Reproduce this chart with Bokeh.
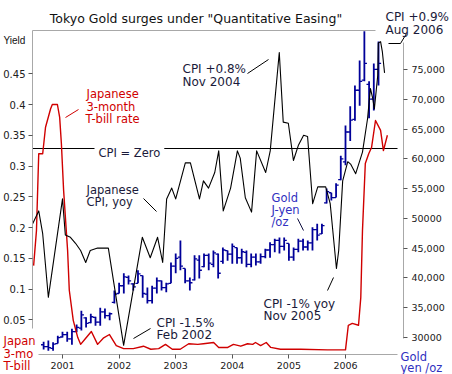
import pandas as pd
from bokeh.plotting import figure
from bokeh.models import Range1d, LinearAxis, FixedTicker, Label
from bokeh.embed import file_html
from bokeh.resources import INLINE

# ---------------- data ----------------
gold_months = pd.date_range("2000-09-01", periods=72, freq="MS")
gold_open = [28800, 28500, 28200, 29000, 30100, 30500, 29800, 31000, 31600, 33300,
             32500, 33400, 32600, 34300, 33700, 35900, 37400, 38700, 40100, 39000,
             39100, 40400, 37300, 36200, 38300, 39500, 38400, 39100, 42000, 43500,
             41600, 39500, 39700, 43000, 41900, 43800, 42300, 44000, 42800, 44600,
             44000, 45100, 43400, 44300, 42300, 43500, 42700, 43600, 44700, 45600,
             46300, 45300, 45800, 43500, 44800, 46200, 45200, 45900, 48100, 47400,
             52600, 54300, 53500, 56500, 59500, 64500, 66600, 71500, 73200, 72500,
             70000, 75000]
gold_high = [29300, 29500, 29200, 30300, 31000, 31000, 31500, 32200, 34500, 33400,
             34000, 33500, 35000, 34900, 34200, 37900, 39200, 40800, 40400, 39100,
             41300, 40400, 38400, 38700, 40100, 39600, 39200, 42600, 44100, 46300,
             41600, 40100, 43800, 43800, 44100, 44100, 44600, 44100, 45100, 44600,
             45800, 45100, 44900, 44600, 44100, 44100, 44100, 44900, 46000, 46600,
             46800, 46800, 45800, 45100, 46600, 46600, 46300, 48500, 49100, 49100,
             55000, 54300, 55900, 60500, 65600, 68800, 72300, 76500, 81400, 73000,
             76000, 79700]
gold_low = [28000, 27800, 27800, 29000, 30000, 29300, 28800, 30900, 31200, 31700,
            32400, 32000, 32000, 33200, 32900, 35700, 37400, 37400, 38900, 37900,
            39100, 36700, 35700, 35700, 37400, 37900, 37600, 39100, 40800, 41300,
            39100, 37900, 39600, 39900, 41800, 41300, 41800, 39900, 42400, 42900,
            42400, 42400, 42400, 41800, 41800, 42100, 42400, 43300, 43400, 44300,
            44100, 44600, 42900, 42900, 44300, 44600, 44600, 44600, 46300, 47400,
            52500, 53000, 53500, 56400, 58900, 63000, 66400, 68900, 73000, 66800,
            68100, 72300]
gold_close = [28500, 28300, 28900, 30000, 30500, 29800, 31000, 31700, 33800, 32400,
              33500, 32600, 34300, 33700, 34000, 37300, 38700, 40200, 39500, 38500,
              40700, 37400, 36200, 38300, 39500, 38400, 39000, 42000, 43300, 42000,
              39500, 39200, 43200, 41300, 43800, 42500, 44200, 40800, 44700, 44000,
              45300, 43400, 44400, 42300, 43500, 42700, 43600, 44700, 45600, 46300,
              45300, 46300, 43500, 44800, 46200, 45200, 45900, 48100, 47200, 48800,
              54500, 53500, 55600, 60000, 64500, 66500, 71500, 73000, 76000, 70000,
              75000, 76000]

tbill_t = [2000.49, 2000.54, 2000.58, 2000.65, 2000.70, 2000.79, 2000.82, 2000.91,
           2000.95, 2000.98, 2001.02, 2001.09, 2001.12, 2001.19, 2001.27, 2001.32,
           2001.41, 2001.51, 2001.62, 2001.72, 2001.83, 2001.95, 2002.08, 2002.25,
           2002.43, 2002.56, 2002.70, 2002.82, 2002.94, 2003.08, 2003.23, 2003.39,
           2003.49, 2003.67, 2003.76, 2003.92, 2004.02, 2004.15, 2004.27, 2004.36,
           2004.41, 2004.50, 2004.60, 2004.68, 2004.85, 2005.21, 2005.68, 2006.00,
           2006.05, 2006.12, 2006.23, 2006.27, 2006.30, 2006.35, 2006.41, 2006.46,
           2006.53, 2006.62, 2006.67, 2006.74]
tbill_yield = [0.138, 0.195, 0.320, 0.320, 0.363, 0.393, 0.400, 0.400,
               0.379, 0.337, 0.260, 0.163, 0.098, 0.049, 0.021, 0.010,
               0.020, 0.031, 0.010, 0.020, 0.026, 0.008, 0.003, 0.003,
               0.007, 0.002, 0.003, 0.010, 0.002, 0.002, 0.011, 0.010,
               0.011, 0.013, 0.005, 0.005, 0.010, 0.007, 0.011, 0.010,
               0.013, 0.008, 0.013, 0.005, 0.002, 0.002, 0.001, 0.001,
               0.041, 0.044, 0.041, 0.086, 0.195, 0.304, 0.320, 0.330,
               0.374, 0.358, 0.325, 0.350]

cpi_t = [2000.47, 2000.58, 2000.65, 2000.75, 2001.00, 2001.05, 2001.14, 2001.23,
         2001.32, 2001.41, 2001.49, 2001.62, 2001.81, 2002.08, 2002.41, 2002.55,
         2002.68, 2002.77, 2002.84, 2002.93, 2003.00, 2003.17, 2003.26, 2003.42,
         2003.49, 2003.58, 2003.69, 2003.76, 2003.84, 2003.97, 2004.09, 2004.14,
         2004.23, 2004.34, 2004.43, 2004.59, 2004.67, 2004.83, 2004.90, 2004.99,
         2005.08, 2005.17, 2005.26, 2005.33, 2005.42, 2005.51, 2005.65, 2005.73,
         2005.84, 2005.88, 2005.95, 2006.04, 2006.09, 2006.18, 2006.30, 2006.39,
         2006.44, 2006.48, 2006.51, 2006.57, 2006.58, 2006.62, 2006.65, 2006.69]
cpi_yoy = [-0.63, -0.52, -0.71, -1.24, -0.42, -0.72, -0.74, -0.79,
           -0.85, -0.95, -0.85, -0.83, -0.83, -1.64, -0.74, -0.91,
           -0.74, -0.95, -0.42, -0.33, -0.42, -0.12, -0.12, -0.42,
           -0.27, -0.33, -0.20, -0.02, -0.52, -0.33, -0.02, -0.08,
           -0.41, -0.53, -0.02, -0.20, -0.02, 0.80, 0.22, 0.21,
           -0.10, 0.03, 0.11, 0.10, -0.46, -0.32, -0.32, -0.46,
           -1.00, -0.85, -0.27, -0.11, -0.13, -0.21, -0.03, 0.25,
           0.50, 0.42, 0.33, 0.61, 0.88, 0.89, 0.81, 0.63]

year_ticks = [2001, 2002, 2003, 2004, 2005, 2006]
year_labels = ["2001", "2002", "2003", "2004", "2005", "2006"]
yield_ticks = [0.05, 0.1, 0.15, 0.2, 0.25, 0.3, 0.35, 0.4, 0.45]
yield_labels = ["0.05", "0.1", "0.15", "0.2", "0.25", "0.3", "0.35", "0.4", "0.45"]
gold_ticks = [30000, 35000, 40000, 45000, 50000, 55000, 60000, 65000, 70000, 75000]
gold_labels = ["30000", "35,000", "40,000", "45,000", "50000", "55,000",
               "60,000", "65,000", "70,000", "75,000"]

gold_t = [d.year + (d.month - 1) / 12 for d in gold_months]

# ---------------- layout helpers (picture pixel -> data) ----------------
def tx(xp):
    return 2001 + (xp - 62) / 56.6

def yv(yp):
    return (350 - yp) / 615

def cv(yp):
    return (148 - yp) / 120

def gv(yp):
    return 52500 + (203 - yp) * 167.8

W, H = 452, 374
RED = "#D00000"
BLUE = "#000099"
NAVY_TXT = "#1a1a3a"
BLUE_TXT = "#3030C0"
FONT = "DejaVu Sans"

p = figure(width=W, height=H, output_backend="svg", toolbar_location=None,
           x_range=Range1d(tx(0), tx(W)), y_range=Range1d(yv(H), yv(0)),
           x_axis_location=None, y_axis_location=None, min_border=0)
p.extra_y_ranges = {"cpi": Range1d(cv(H), cv(0)), "gold": Range1d(gv(H), gv(0))}
p.outline_line_color = None
p.background_fill_color = "white"
p.border_fill_color = "white"
for g in p.grid:
    g.visible = False

def style_axis(ax, tick_out=4, standoff=2, size="9.5px"):
    ax.axis_line_color = "#A8A8A8"
    ax.major_tick_line_color = "#555555"
    ax.major_tick_out = tick_out
    ax.major_tick_in = 0
    ax.minor_tick_line_color = None
    ax.major_label_standoff = standoff
    ax.major_label_text_font = FONT
    ax.major_label_text_font_size = size
    ax.major_label_text_color = "#202020"

ax_left = LinearAxis(fixed_location=tx(32), bounds=(yv(328), yv(30)),
                     ticker=FixedTicker(ticks=yield_ticks),
                     major_label_overrides=dict(zip(yield_ticks, yield_labels)))
style_axis(ax_left, 4, 3, "10px")
p.add_layout(ax_left, "left")

ax_right = LinearAxis(y_range_name="gold", fixed_location=tx(403), bounds=(gv(338), gv(42)),
                      ticker=FixedTicker(ticks=gold_ticks),
                      major_label_overrides=dict(zip(gold_ticks, gold_labels)))
style_axis(ax_right, 4, 4)
p.add_layout(ax_right, "right")

ax_bottom = LinearAxis(fixed_location=yv(354), bounds=(tx(38), tx(397)),
                       ticker=FixedTicker(ticks=year_ticks),
                       major_label_overrides=dict(zip(year_ticks, year_labels)))
style_axis(ax_bottom, 4, 3)
p.add_layout(ax_bottom, "below")

ax_top = LinearAxis(fixed_location=yv(30), bounds=(tx(32), tx(375)),
                    ticker=FixedTicker(ticks=[]))
style_axis(ax_top, 0, 0)
p.add_layout(ax_top, "above")

# CPI = zero reference line
p.segment(x0=[tx(32)], x1=[tx(397)], y0=[0], y1=[0], y_range_name="cpi",
          line_color="black", line_width=1)

# gold bars (high-low with open/close ticks)
TW = 2.6 / 56.6
p.segment(x0=gold_t, x1=gold_t, y0=gold_low, y1=gold_high, y_range_name="gold",
          line_color=BLUE, line_width=1.8)
p.segment(x0=[t - TW for t in gold_t], x1=gold_t, y0=gold_open, y1=gold_open,
          y_range_name="gold", line_color=BLUE, line_width=1.3)
p.segment(x0=gold_t, x1=[t + TW for t in gold_t], y0=gold_close, y1=gold_close,
          y_range_name="gold", line_color=BLUE, line_width=1.3)

# T-bill rate and CPI
p.line(tbill_t, tbill_yield, line_color=RED, line_width=1.4, line_join="round")
p.line(cpi_t, cpi_yoy, y_range_name="cpi", line_color="black", line_width=1.1,
       line_join="round")

# leader lines
def leader(x0, y0, x1, y1, color):
    p.segment(x0=[tx(x0)], y0=[yv(y0)], x1=[tx(x1)], y1=[yv(y1)],
              line_color=color, line_width=1)

leader(388, 43, 400, 43, "black")
leader(400, 43, 406, 33, "black")
leader(65, 117, 78, 109, RED)
leader(143, 198, 156, 211, "black")
leader(247, 73, 268, 59, "black")
leader(297, 218, 303, 230, "#101040")
leader(133, 338, 150, 328, "black")
leader(327, 290, 333, 277, "black")

def txt(xp, yp, s, color=NAVY_TXT, size="11.5px", align="left", font=FONT, **kw):
    p.add_layout(Label(x=tx(xp), y=yv(yp), text=s, text_font=font, text_font_size=size,
                       text_color=color, text_align=align, text_baseline="alphabetic", **kw))

txt(195.5, 18, 'Tokyo Gold surges under "Quantitative Easing"', "#111111", "12.5px", "center")
txt(385, 16, "CPI +0.9%", size="12px")
txt(385, 29, "Aug 2006", size="12px")
txt(3, 39.5, "Yield", "#111111", "10px", font="Liberation Sans")

txt(86, 93, "Japanese", RED)
txt(86, 106, "3-month", RED)
txt(85, 118, "T-bill rate", RED)

p.add_layout(Label(x=tx(94), y=yv(152.5), text="CPI = Zero", text_font=FONT,
                   text_font_size="11.5px", text_color=NAVY_TXT, text_align="left",
                   text_baseline="alphabetic", background_fill_color="white",
                   padding=4))

txt(86, 189, "Japanese")
txt(86, 201, "CPI, yoy")
txt(182, 68, "CPI +0.8%", size="12px")
txt(182, 81, "Nov 2004", size="12px")
txt(271, 197, "Gold", BLUE_TXT)
txt(271, 209, "J-yen", BLUE_TXT)
txt(271, 221, "/oz", BLUE_TXT)
txt(156, 322, "CPI -1.5%", size="12px")
txt(156, 334.5, "Feb 2002", size="12px")
txt(263, 303, "CPI -1% yoy", size="12px")
txt(263, 315, "Nov 2005", size="12px")
txt(3, 340.5, "Japan", RED)
txt(3, 353, "3-mo", RED)
txt(3, 365, "T-bill", RED)
txt(400, 356.5, "Gold", BLUE_TXT)
txt(400, 367.5, "yen /oz", BLUE_TXT)

open("out.html", "w").write(file_html(p, INLINE, title="Tokyo Gold"))
